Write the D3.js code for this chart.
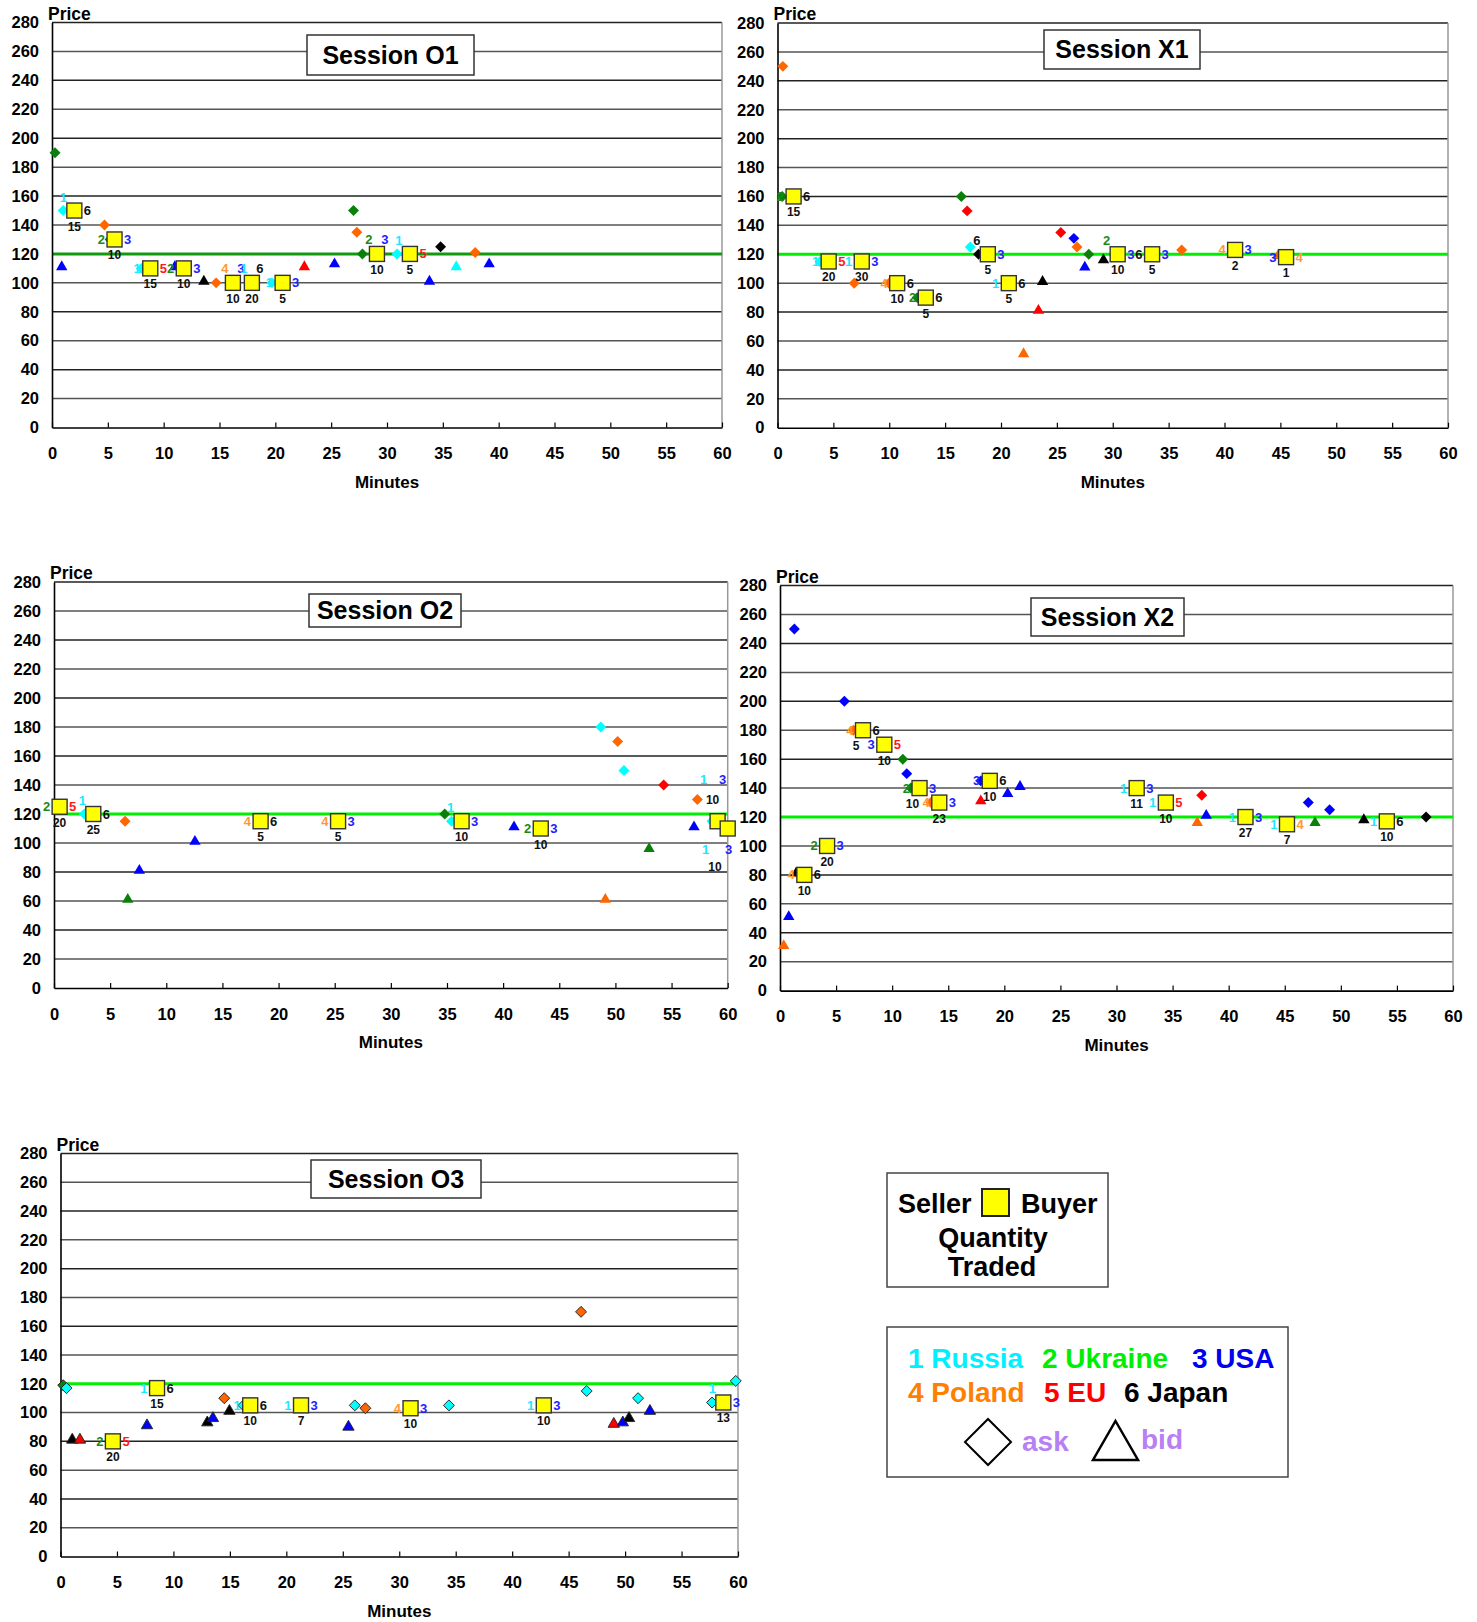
<!DOCTYPE html>
<html><head><meta charset="utf-8">
<script src="https://cdn.jsdelivr.net/npm/d3@7"></script>
<style>
body{margin:0;background:#fff;}
svg text{font-family:"Liberation Sans",Arial,Helvetica,sans-serif;}
</style></head><body>
<svg id="c" width="1477" height="1622"></svg>
<script>
// ---------- DATA (minute, price, country) ----------
const countryNames = ["Russia","Ukraine","USA","Poland","EU","Japan"];
const yTicks = [0,20,40,60,80,100,120,140,160,180,200,220,240,260,280];
const xTicks = [0,5,10,15,20,25,30,35,40,45,50,55,60];
const equilibrium = 120;

const O1_asks = [[0.27,190,2],[1.0,150,1],[4.7,140,4],[5.2,130,2],[8.0,110,1],[14.7,100,4],[19.7,100,1],[27.0,150,2],[27.3,135,4],[27.8,120,2],[30.9,120,1],[34.8,125,6],[37.9,121,4]];
const O1_bids = [[0.87,110,3],[11.0,110,3],[13.6,100,6],[22.6,110,5],[25.3,112,3],[33.8,100,3],[36.2,110,1],[39.15,112,3]];
const O1_trades = [[2.0,150,1,6,15,"l"],[5.6,130,2,3,10,"s"],[8.8,110,1,5,15,"s"],[11.8,110,2,3,10,"s"],[16.2,100,4,3,10,"u"],[17.9,100,1,6,20,"u"],[20.65,100,1,3,5,"s"],[29.1,120,2,3,10,"u"],[32.05,120,1,5,5,"l"]];

const X1_asks = [[0.48,250,4],[0.42,160,2],[3.8,115,1],[6.86,100,4],[9.98,100,4],[12.5,90,2],[16.45,160,2],[16.97,150,5],[17.25,125,1],[17.99,120,6],[25.35,135,5],[26.52,131,3],[26.8,125,4],[27.85,120,2],[36.17,123,4]];
const X1_bids = [[22.02,50,4],[23.35,80,5],[23.72,100,6],[27.5,110,3],[29.17,115,6],[44.8,118,4]];
const X1_trades = [[1.44,160,2,6,15,"s"],[4.58,115,1,5,20,"s"],[7.54,115,1,3,30,"s"],[10.71,100,4,6,10,"s"],[13.27,90,2,6,5,"s"],[18.82,120,6,3,5,"l"],[20.7,100,1,6,5,"s"],[30.44,120,2,3,10,"l"],[33.52,120,6,3,5,"s"],[40.95,123,4,3,2,"s"],[45.51,118,3,4,1,"s"]];

const O2_asks = [[2.7,120,1],[6.33,115,4],[34.8,120,2],[35.4,115,1],[48.7,180,1],[50.2,170,4],[50.76,150,1],[54.3,140,5],[57.3,130,4],[58.6,115,1]];
const O2_bids = [[6.57,60,2],[7.6,80,3],[12.55,100,3],[40.97,110,3],[49.1,60,4],[53.0,95,2],[57.0,110,3]];
const O2_trades = [[0.5,125,2,5,20,"s"],[3.5,120,1,6,25,"l"],[18.4,115,4,6,5,"s"],[25.3,115,4,3,5,"s"],[36.3,115,1,3,10,"l"],[43.35,110,2,3,10,"s"],[59.1,115,1,3,10,"A"],[60.0,110,1,3,10,"B"]];

const X2_asks = [[1.28,250,3],[5.74,200,3],[6.55,180,4],[10.95,160,2],[11.3,150,3],[11.67,140,2],[13.45,130,4],[17.9,145,3],[37.6,135,5],[47.1,130,3],[49.0,125,3],[57.6,120,6]];
const X2_bids = [[0.33,30,4],[0.78,50,3],[1.43,80,6],[17.9,130,5],[20.3,135,3],[21.4,140,3],[37.2,115,4],[38.0,120,3],[47.7,115,2],[52.05,117,6]];
const X2_trades = [[2.17,80,4,6,10,"s"],[4.2,100,2,3,20,"s"],[7.4,180,4,6,5,"t"],[9.3,170,3,5,10,"s"],[12.44,140,2,3,10,"t"],[14.2,130,4,3,23,"s"],[18.7,145,3,6,10,"s"],[31.8,140,1,3,11,"s"],[34.4,130,1,5,10,"s"],[41.5,120,1,3,27,"s"],[45.2,115,1,4,7,"s"],[54.1,117,1,6,10,"s"]];

const O3_asks = [[0.24,119,2],[0.53,117,1],[14.5,110,4],[16.2,105,1],[26.06,105,1],[27.0,103,4],[34.4,105,1],[46.1,170,4],[46.6,115,1],[51.15,110,1],[57.7,107,1],[59.8,122,1]];
const O3_bids = [[1.04,80,6],[1.72,80,5],[7.66,90,3],[13.0,92,6],[13.5,95,3],[14.96,100,6],[25.5,89,3],[49.0,91,5],[49.8,92,3],[50.35,95,6],[52.2,100,3]];
const O3_trades = [[4.64,80,2,5,20,"s"],[8.55,117,1,6,15,"s"],[16.8,105,1,6,10,"s"],[21.3,105,1,3,7,"s"],[31.0,103,4,3,10,"s"],[42.8,105,1,3,10,"s"],[58.7,107,1,3,13,"l"]];

// ---------- STYLE / LAYOUT ----------
const markerColor = {1:"#00ffff",2:"#0a800a",3:"#0000ff",4:"#ff6600",5:"#ff0000",6:"#000000"};
const labelColor  = {1:"#1ee8ff",2:"#1a8a1a",3:"#2222ff",4:"#ff9933",5:"#ff1a1a",6:"#111111"};
const legendColor = {1:"#00f0ff",2:"#00ee00",3:"#0000ee",4:"#ff8000",5:"#ff0000",6:"#000000"};

const panels = [
 {title:"Session O1", asks:O1_asks, bids:O1_bids, trades:O1_trades, x0:52, x1:722, yt:22.5, yb:427.5, box:[307,35,167,40], eq:"#119a11", outline:false},
 {title:"Session X1", asks:X1_asks, bids:X1_bids, trades:X1_trades, x0:777.5, x1:1448, yt:23, yb:427.7, box:[1044,30,156,39], eq:"#00ee00", outline:false},
 {title:"Session O2", asks:O2_asks, bids:O2_bids, trades:O2_trades, x0:54, x1:727.7, yt:582, yb:988, box:[309,594,152,33], eq:"#00ee00", outline:false},
 {title:"Session X2", asks:X2_asks, bids:X2_bids, trades:X2_trades, x0:780, x1:1453, yt:585.6, yb:990.6, box:[1031,598,153,38], eq:"#00ee00", outline:false},
 {title:"Session O3", asks:O3_asks, bids:O3_bids, trades:O3_trades, x0:60.5, x1:738, yt:1153.5, yb:1556.5, box:[311,1160,170,38], eq:"#00ee00", outline:true}
];

const svg = d3.select("#c");
const diamond = d3.symbol().type(d3.symbolSquare).size(60);
const triangle = d3.symbol().type(d3.symbolTriangle).size(56);

panels.forEach(p => {
  const x = d3.scaleLinear().domain([0,60]).range([p.x0,p.x1]);
  const y = d3.scaleLinear().domain([0,280]).range([p.yb,p.yt]);
  const g = svg.append("g");

  // grid
  g.selectAll("line.grid").data(yTicks.filter(v=>v>0)).join("line")
    .attr("x1",p.x0).attr("x2",p.x1).attr("y1",d=>y(d)).attr("y2",d=>y(d))
    .attr("stroke",(d,i)=>i%2? "#222":"#555").attr("stroke-width",1.5);
  // right border
  g.append("line").attr("x1",p.x1).attr("x2",p.x1).attr("y1",p.yt).attr("y2",p.yb)
    .attr("stroke","#999").attr("stroke-width",1.5);
  // equilibrium
  g.append("line").attr("x1",p.x0).attr("x2",p.x1)
    .attr("y1",y(equilibrium)).attr("y2",y(equilibrium))
    .attr("stroke",p.eq).attr("stroke-width",3);

  // axes
  const ay = g.append("g").attr("transform",`translate(${p.x0},0)`)
    .call(d3.axisLeft(y).tickValues(yTicks).tickSize(0).tickPadding(13));
  ay.select(".domain").attr("stroke","#000").attr("stroke-width",1.6);
  ay.selectAll("text").attr("font-size",16.5).attr("font-weight","bold").attr("fill","#000").attr("font-family",null);

  const ax = g.append("g").attr("transform",`translate(0,${p.yb})`)
    .call(d3.axisBottom(x).tickValues(xTicks).tickSizeInner(-5).tickSizeOuter(0).tickPadding(20));
  ax.select(".domain").attr("stroke","#000").attr("stroke-width",1.6);
  ax.selectAll(".tick line").attr("stroke","#000").attr("stroke-width",1.2);
  ax.selectAll("text").attr("font-size",16.5).attr("font-weight","bold").attr("fill","#000").attr("font-family",null);

  g.append("text").attr("x",p.x0-4).attr("y",p.yt-3).attr("font-size",17.5).attr("font-weight","bold").text("Price");
  g.append("text").attr("x",(p.x0+p.x1)/2).attr("y",p.yb+60).attr("text-anchor","middle")
    .attr("font-size",17).attr("font-weight","bold").text("Minutes");

  // title box
  const [bx,by,bw,bh] = p.box;
  g.append("rect").attr("x",bx).attr("y",by).attr("width",bw).attr("height",bh)
    .attr("fill","#fff").attr("stroke","#333").attr("stroke-width",1.5);
  g.append("text").attr("x",bx+bw/2).attr("y",by+bh/2+8.5).attr("text-anchor","middle")
    .attr("font-size",25).attr("font-weight","bold").text(p.title);

  const stroke = p.outline ? "#222" : "none";
  // asks (diamonds)
  g.selectAll("path.ask").data(p.asks).join("path")
    .attr("d",diamond).attr("transform",d=>`translate(${x(d[0])},${y(d[1])}) rotate(45)`)
    .attr("fill",d=>markerColor[d[2]]).attr("stroke",stroke).attr("stroke-width",0.9);
  // bids (triangles)
  g.selectAll("path.bid").data(p.bids).join("path")
    .attr("d",triangle).attr("transform",d=>`translate(${x(d[0])},${y(d[1])-1.5})`)
    .attr("fill",d=>markerColor[d[2]]).attr("stroke",stroke).attr("stroke-width",0.9);

  // trades
  const tg = g.selectAll("g.trade").data(p.trades).join("g")
    .attr("transform",d=>`translate(${x(d[0])},${y(d[1])})`);
  tg.append("rect").attr("x",-7.5).attr("y",-7.5).attr("width",15).attr("height",15)
    .attr("fill","#ffff00").attr("stroke","#333").attr("stroke-width",1.4);

  const lay = {
    s:{s:[-9.5,4.5,"end"], b:[9.5,4.5,"start"], q:[0,20]},
    t:{s:[-9.5,4.5,"end"], b:[9.5,4.5,"start"], q:[-7,20]},
    l:{s:[-11,-9,"middle"], b:[9.5,4.5,"start"], q:[0,20]},
    u:{s:[-8,-10,"middle"], b:[8,-10,"middle"], q:[0,20]},
    A:{s:[-14,-37.5,"middle"], b:[5,-37.5,"middle"], q:[-5,-17.5]},
    B:{s:[-22,25.5,"middle"], b:[1,25.5,"middle"], q:[-12.7,42]}
  };
  tg.append("text").attr("x",d=>lay[d[5]].s[0]).attr("y",d=>lay[d[5]].s[1])
    .attr("text-anchor",d=>lay[d[5]].s[2]).attr("font-size",13).attr("font-weight","bold")
    .attr("fill",d=>labelColor[d[2]]).text(d=>d[2]);
  tg.append("text").attr("x",d=>lay[d[5]].b[0]).attr("y",d=>lay[d[5]].b[1])
    .attr("text-anchor",d=>lay[d[5]].b[2]).attr("font-size",13).attr("font-weight","bold")
    .attr("fill",d=>labelColor[d[3]]).text(d=>d[3]);
  tg.append("text").attr("x",d=>lay[d[5]].q[0]).attr("y",d=>lay[d[5]].q[1])
    .attr("text-anchor","middle").attr("font-size",12).attr("font-weight","bold")
    .attr("fill","#111").text(d=>d[4]);
});

// ---------- LEGENDS ----------
const L = svg.append("g").attr("font-weight","bold");
L.append("rect").attr("x",887).attr("y",1173).attr("width",221).attr("height",114)
  .attr("fill","#fff").attr("stroke","#444").attr("stroke-width",1.5);
L.append("text").attr("x",898).attr("y",1213).attr("font-size",27).text("Seller");
L.append("rect").attr("x",982).attr("y",1189).attr("width",27).attr("height",27)
  .attr("fill","#ffff00").attr("stroke","#222").attr("stroke-width",2);
L.append("text").attr("x",1021).attr("y",1213).attr("font-size",27).text("Buyer");
L.append("text").attr("x",993).attr("y",1247).attr("text-anchor","middle").attr("font-size",27).text("Quantity");
L.append("text").attr("x",992).attr("y",1276).attr("text-anchor","middle").attr("font-size",27).text("Traded");

L.append("rect").attr("x",887).attr("y",1327).attr("width",401).attr("height",150)
  .attr("fill","#fff").attr("stroke","#444").attr("stroke-width",1.5);
const legPos = [[908,1368],[1042,1368],[1192,1368],[908,1402],[1044,1402],[1124,1402]];
countryNames.forEach((n,i)=>{
  L.append("text").attr("x",legPos[i][0]).attr("y",legPos[i][1]).attr("font-size",28)
    .attr("fill",legendColor[i+1]).text(`${i+1} ${n}`);
});
L.append("path").attr("d",d3.symbol().type(d3.symbolSquare).size(1058))
  .attr("transform","translate(988,1442) rotate(45)").attr("fill","#fff").attr("stroke","#000").attr("stroke-width",2);
L.append("text").attr("x",1022).attr("y",1451).attr("font-size",28).attr("fill","#b780f5").text("ask");
L.append("path").attr("d","M1115.5,1421 L1138,1460 L1093,1460 Z").attr("fill","#fff").attr("stroke","#000").attr("stroke-width",2.5);
L.append("text").attr("x",1141).attr("y",1449).attr("font-size",28).attr("fill","#b780f5").text("bid");
</script>
</body></html>
